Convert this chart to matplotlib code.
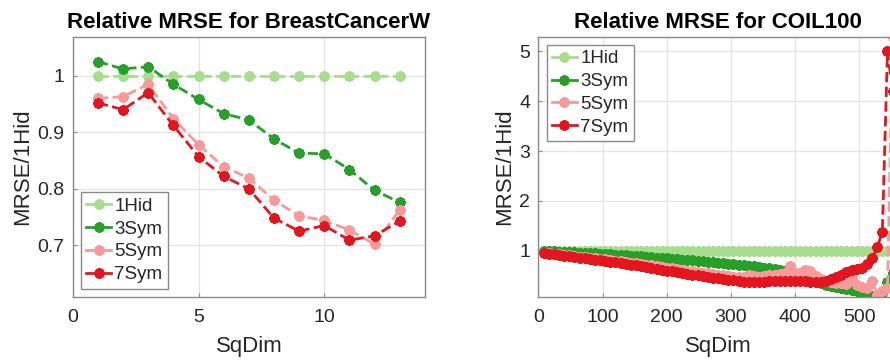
import matplotlib
matplotlib.use("Agg")
import matplotlib.pyplot as plt

plt.rcParams['font.family'] = ['Liberation Sans', 'DejaVu Sans']

# ---- BreastCancerW: relative MRSE vs. square dimension ----
bc_sqdim = [1, 2, 3, 4, 5, 6, 7, 8, 9, 10, 11, 12, 13]
bc_1hid = [1.0, 1.0, 1.0, 1.0, 1.0, 1.0, 1.0, 1.0, 1.0, 1.0, 1.0, 1.0, 1.0]
bc_3sym = [1.025, 1.012, 1.016, 0.985, 0.958, 0.933, 0.922, 0.888, 0.863, 0.862, 0.834, 0.797, 0.776]
bc_5sym = [0.960, 0.963, 0.985, 0.924, 0.878, 0.839, 0.819, 0.780, 0.752, 0.744, 0.727, 0.702, 0.763]
bc_7sym = [0.952, 0.940, 0.970, 0.912, 0.857, 0.822, 0.800, 0.748, 0.725, 0.735, 0.709, 0.717, 0.743]

# ---- COIL100: relative MRSE vs. square dimension ----
coil_sqdim = [8, 16, 24, 32, 40, 48, 56, 64, 72, 80, 88, 96, 104, 112, 120, 128,
              136, 144, 152, 160, 168, 176, 184, 192, 200, 208, 216, 224, 232, 240,
              248, 256, 264, 272, 280, 288, 296, 304, 312, 320, 328, 336, 344, 352,
              360, 368, 376, 384, 392, 400, 408, 416, 424, 432, 440, 448, 456, 464,
              472, 480, 488, 496, 504, 512, 520, 528, 536, 544, 552]
coil_1hid = [1.0, 1.0, 1.0, 1.0, 1.0, 1.0, 1.0, 1.0, 1.0, 1.0, 1.0, 1.0, 1.0, 1.0,
             1.0, 1.0, 1.0, 1.0, 1.0, 1.0, 1.0, 1.0, 1.0, 1.0, 1.0, 1.0, 1.0, 1.0,
             1.0, 1.0, 1.0, 1.0, 1.0, 1.0, 1.0, 1.0, 1.0, 1.0, 1.0, 1.0, 1.0, 1.0,
             1.0, 1.0, 1.0, 1.0, 1.0, 1.0, 1.0, 1.0, 1.0, 1.0, 1.0, 1.0, 1.0, 1.0,
             1.0, 1.0, 1.0, 1.0, 1.0, 1.0, 1.0, 1.0, 1.0, 1.0, 1.0, 1.0, 1.0]
coil_3sym = [1.00, 0.995, 0.99, 0.985, 0.98, 0.975, 0.97, 0.965, 0.96, 0.955, 0.95,
             0.945, 0.94, 0.93, 0.925, 0.92, 0.91, 0.905, 0.90, 0.89, 0.88, 0.875,
             0.865, 0.86, 0.85, 0.84, 0.835, 0.825, 0.815, 0.81, 0.80, 0.79, 0.78,
             0.77, 0.76, 0.75, 0.74, 0.73, 0.72, 0.71, 0.70, 0.69, 0.68, 0.66, 0.65,
             0.63, 0.61, 0.59, 0.57, 0.55, 0.52, 0.48, 0.44, 0.39, 0.35, 0.32, 0.29,
             0.27, 0.25, 0.24, 0.22, 0.20, 0.17, 0.13, 0.09, 0.12, 0.15, 0.38, 0.55]
coil_5sym = [0.96, 0.95, 0.94, 0.93, 0.92, 0.91, 0.90, 0.88, 0.87, 0.86, 0.85, 0.84,
             0.83, 0.81, 0.80, 0.79, 0.77, 0.76, 0.75, 0.73, 0.72, 0.71, 0.69, 0.68,
             0.66, 0.65, 0.63, 0.62, 0.60, 0.59, 0.58, 0.56, 0.55, 0.53, 0.52, 0.51,
             0.49, 0.48, 0.47, 0.47, 0.52, 0.49, 0.48, 0.50, 0.51, 0.52, 0.53, 0.56,
             0.70, 0.56, 0.56, 0.62, 0.60, 0.50, 0.44, 0.40, 0.37, 0.35, 0.36, 0.33,
             0.45, 0.32, 0.28, 0.26, 0.40, 0.12, 0.20, 0.26, 5.29]
coil_7sym = [0.95, 0.94, 0.93, 0.92, 0.90, 0.89, 0.88, 0.86, 0.85, 0.84, 0.82, 0.81,
             0.80, 0.78, 0.77, 0.75, 0.74, 0.72, 0.71, 0.69, 0.68, 0.66, 0.64, 0.62,
             0.60, 0.59, 0.57, 0.55, 0.54, 0.52, 0.51, 0.49, 0.48, 0.46, 0.45, 0.43,
             0.42, 0.41, 0.40, 0.38, 0.38, 0.38, 0.38, 0.38, 0.39, 0.39, 0.39, 0.40,
             0.40, 0.40, 0.40, 0.39, 0.38, 0.37, 0.38, 0.40, 0.44, 0.48, 0.52, 0.57,
             0.62, 0.64, 0.66, 0.74, 0.85, 1.07, 1.38, 5.00, 4.20]

series_names = ['1Hid', '3Sym', '5Sym', '7Sym']
series_colors = ['#a9dd8e', '#27a02a', '#f99a9a', '#e3161f']

TEXT = '#262626'
FRAME = '#8a8a8a'

fig = plt.figure(figsize=(8.9, 3.61), dpi=100)
ax1 = fig.add_axes([0.0817, 0.178, 0.3958, 0.7186])
ax2 = fig.add_axes([0.605, 0.178, 0.4037, 0.7186])

marker = (8, 2, 0)


def draw(ax, x, ys, title):
    for y, name, col in zip(ys, series_names, series_colors):
        ax.plot(x, y, linestyle='--', color=col, linewidth=2.0,
                marker=marker, markersize=7.5, markeredgewidth=2.3,
                markeredgecolor=col, markerfacecolor=col, label=name)
    ax.set_title(title, fontsize=16, fontweight='bold', color='black', pad=7)
    ax.set_xlabel('SqDim', fontsize=16, color=TEXT, labelpad=7)
    ax.set_ylabel('MRSE/1Hid', fontsize=16, color=TEXT, labelpad=3)
    ax.grid(True, color='#e3e3e3', linewidth=0.9)
    ax.set_axisbelow(True)
    for s in ax.spines.values():
        s.set_color(FRAME)
        s.set_linewidth(1.0)
    ax.tick_params(direction='in', length=3, width=0.8, colors=FRAME,
                   labelcolor=TEXT, labelsize=14)
    ax.tick_params(axis='x', pad=9)
    ax.tick_params(axis='y', pad=6)


draw(ax1, bc_sqdim, [bc_1hid, bc_3sym, bc_5sym, bc_7sym],
     'Relative MRSE for BreastCancerW')
ax1.set_xlim(0, 14)
ax1.set_ylim(0.609, 1.068)
ax1.set_xticks([0, 5, 10])
ax1.set_yticks([0.7, 0.8, 0.9, 1.0])
ax1.set_yticklabels(['0.7', '0.8', '0.9', '1'])

draw(ax2, coil_sqdim, [coil_1hid, coil_3sym, coil_5sym, coil_7sym],
     'Relative MRSE for COIL100')
ax2.set_xlim(0, 560)
ax2.set_ylim(0.08, 5.28)
ax2.set_xticks([0, 100, 200, 300, 400, 500])
ax2.set_yticks([1, 2, 3, 4, 5])

leg_kw = dict(fontsize=13.5, frameon=True, fancybox=False, borderaxespad=0,
              handlelength=1.3, handletextpad=0.2, labelspacing=0.3,
              borderpad=0.3, markerscale=1.0)
l1 = ax1.legend(loc='lower left', bbox_to_anchor=(0.0227, 0.031), **leg_kw)
l2 = ax2.legend(loc='upper left', bbox_to_anchor=(0.0228, 0.972), **leg_kw)
for lg in (l1, l2):
    lg.get_frame().set_edgecolor(FRAME)
    lg.get_frame().set_linewidth(1.0)
    lg.get_frame().set_alpha(1.0)
    for t in lg.get_texts():
        t.set_color(TEXT)
    for h in lg.get_lines():
        h.set_linestyle('-')

fig.savefig('out.png', dpi=100)
